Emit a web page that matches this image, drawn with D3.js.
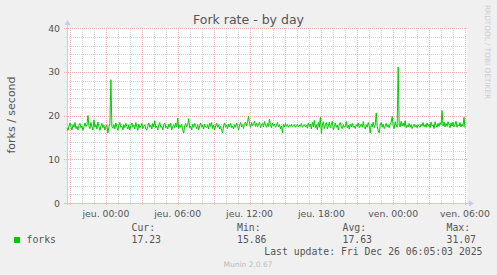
<!DOCTYPE html>
<html><head><meta charset="utf-8">
<script src="https://cdn.jsdelivr.net/npm/d3@7"></script>
<style>
html,body{margin:0;padding:0;background:#f0f0f0;}
svg{display:block;}
</style></head>
<body>
<svg id="chart" width="497" height="275"></svg>
<script>
// ---- data ----
const title = "Fork rate - by day";
const yLabel = "forks / second";
const seriesName = "forks";
const startTime = new Date(2025, 11, 24, 20, 45, 0);
const endTime = new Date(2025, 11, 26, 6, 5, 0);
const stepSeconds = 300;
const yTicks = [0, 10, 20, 30, 40];
const xTickLabels = ["jeu. 00:00", "jeu. 06:00", "jeu. 12:00", "jeu. 18:00", "ven. 00:00", "ven. 06:00"];
const xTickTimes = [
  new Date(2025, 11, 25, 0), new Date(2025, 11, 25, 6), new Date(2025, 11, 25, 12),
  new Date(2025, 11, 25, 18), new Date(2025, 11, 26, 0), new Date(2025, 11, 26, 6)
];
const statLabels = ["Cur:", "Min:", "Avg:", "Max:"];
const statValues = ["17.23", "15.86", "17.63", "31.07"];
const lastUpdate = "Last update: Fri Dec 26 06:05:03 2025";
const footer = "Munin 2.0.67";
const sideText = "RRDTOOL / TOBI OETIKER";
const forks = [
17.2,16.6,17.6,18.3,17.4,16.7,17.9,17.3,18.4,17.0,17.5,16.7,17.8,18.2,17.2,17.6,16.6,17.4,18.3,17.5,
17.9,20.0,17.6,17.0,18.4,17.4,16.7,19.0,17.3,17.9,16.9,18.5,17.5,16.6,17.6,18.2,17.2,17.8,16.7,17.5,
17.8,16.0,17.4,18.1,28.2,17.5,17.1,17.9,16.9,18.3,17.4,16.6,17.8,18.4,17.3,17.6,16.7,17.9,17.2,18.2,
17.5,16.9,17.9,16.7,17.6,18.3,17.3,17.8,16.9,18.4,17.4,16.6,18.0,17.2,17.6,18.2,17.0,17.5,17.9,16.9,
16.7,17.6,18.3,17.3,17.8,16.9,18.2,17.4,18.8,17.2,17.6,16.7,17.9,18.4,17.3,17.5,16.7,17.8,18.3,17.2,
17.6,16.9,18.0,17.3,18.2,16.7,17.5,17.9,17.2,18.3,17.4,19.4,17.0,17.8,17.3,18.0,16.7,16.0,17.6,18.2,
17.4,17.9,19.3,17.2,17.6,16.7,18.0,17.3,18.2,17.5,17.0,17.9,16.7,17.6,18.3,17.3,17.8,16.9,18.0,17.4,
17.2,17.9,16.9,18.3,17.5,18.4,17.0,17.8,16.7,17.6,18.2,17.3,17.9,16.9,17.5,16.6,16.0,17.6,18.3,17.3,
17.8,17.0,18.0,17.4,18.2,17.2,17.6,16.9,17.9,17.3,18.3,17.5,16.7,17.8,18.4,17.4,17.9,17.0,18.2,18.5,
17.6,18.6,19.8,18.0,17.3,18.4,17.6,18.2,18.7,17.5,18.3,17.4,18.0,18.5,17.2,17.9,18.2,17.4,18.6,17.8,
17.3,18.2,17.5,19.2,17.9,17.2,18.3,17.6,18.0,17.3,17.8,18.4,17.4,17.9,17.0,17.6,16.0,18.0,17.4,18.2,
17.5,17.9,17.3,17.8,17.5,18.0,17.4,17.6,17.9,17.3,17.6,18.0,17.4,17.8,17.5,18.2,17.3,17.6,17.9,17.4,
17.8,17.1,18.3,17.5,18.0,16.9,18.5,17.4,18.9,17.2,17.9,16.7,18.4,17.3,19.6,15.9,17.8,18.6,17.0,17.9,
18.4,16.9,17.6,18.5,17.2,17.9,18.7,16.7,17.5,18.3,17.3,17.8,16.7,18.0,18.4,17.4,17.0,17.9,17.3,17.6,
18.6,17.2,17.8,16.9,18.0,17.4,18.2,17.3,17.6,17.0,17.9,17.5,18.3,17.2,17.6,18.0,17.3,18.6,17.5,16.9,
17.9,17.3,18.4,17.6,16.0,18.0,17.4,18.5,17.2,17.9,20.6,17.5,16.5,16.0,17.8,18.4,17.3,18.0,17.0,17.6,
18.2,17.4,17.9,17.2,18.0,18.5,19.8,17.6,17.0,18.6,17.8,17.3,31.1,18.0,17.4,18.7,17.6,18.3,17.5,18.8,
17.2,17.8,17.4,18.2,17.3,17.9,17.0,17.6,18.0,17.4,17.8,17.2,17.9,17.5,17.3,18.0,17.6,18.4,17.4,17.9,
17.3,18.3,17.5,18.0,17.2,18.5,17.6,17.9,17.0,18.6,17.8,17.3,18.2,17.5,18.4,17.9,21.1,17.6,18.5,17.4,
18.2,17.5,18.6,17.8,17.2,18.3,17.6,18.5,17.4,18.0,18.7,17.3,17.9,17.6,18.4,17.4,18.0,17.5,19.6,17.2
];

// ---- layout ----
const svg = d3.select("#chart");
const L = 67, R = 466, T = 28, B = 203;
const x = d3.scaleTime().domain([startTime, endTime]).range([L, R]);
const y = d3.scaleLinear().domain([0, 40]).range([B, T]);
const points = forks.map((v, i) => ({t: new Date(startTime.getTime() + i * stepSeconds * 1000), v}));

svg.append("rect").attr("x", 0).attr("y", 0).attr("width", 497).attr("height", 275).attr("fill", "#f0f0f0");
svg.append("rect").attr("x", L).attr("y", T).attr("width", R - L + 1).attr("height", B - T).attr("fill", "#ffffff");

// grid
const minorY = d3.range(0, 41, 2).filter(v => v % 10 !== 0);
const hourTicks = x.ticks(d3.timeHour.every(1));
const majorTimes = hourTicks.filter(d => d.getHours() % 3 === 0);
const minorTimes = hourTicks.filter(d => d.getHours() % 3 !== 0);
const minorColor = "#d4d4d4", majorColor = "#f2b4b4";
const g = svg.append("g").attr("shape-rendering", "crispEdges");
g.selectAll(".mv").data(minorTimes).join("line")
  .attr("x1", d => Math.round(x(d)) + 0.5).attr("x2", d => Math.round(x(d)) + 0.5)
  .attr("y1", T).attr("y2", B + 2)
  .attr("stroke", minorColor).attr("stroke-dasharray", "1,1");
g.selectAll(".mh").data(minorY).join("line")
  .attr("x1", L - 2).attr("x2", R + 1)
  .attr("y1", d => Math.round(y(d)) + 0.5).attr("y2", d => Math.round(y(d)) + 0.5)
  .attr("stroke", minorColor).attr("stroke-dasharray", "1,1");
g.selectAll(".Mv").data(majorTimes).join("line")
  .attr("x1", d => Math.round(x(d)) + 0.5).attr("x2", d => Math.round(x(d)) + 0.5)
  .attr("y1", T).attr("y2", B + 3)
  .attr("stroke", majorColor).attr("stroke-dasharray", "1,1");
g.selectAll(".Mh").data(yTicks).join("line")
  .attr("x1", L - 3).attr("x2", R + 1)
  .attr("y1", d => Math.round(y(d)) + 0.5).attr("y2", d => Math.round(y(d)) + 0.5)
  .attr("stroke", majorColor).attr("stroke-dasharray", "1,1");

// axes lines with arrows
const axisColor = "#c8c8f0";
g.append("line").attr("x1", L + 0.5).attr("x2", L + 0.5).attr("y1", B + 2).attr("y2", T - 4).attr("stroke", axisColor);
g.append("line").attr("x1", L - 2).attr("x2", R + 4).attr("y1", B + 0.5).attr("y2", B + 0.5).attr("stroke", axisColor);
svg.append("path").attr("d", `M${L - 2.5},${T - 3} L${L + 3.5},${T - 3} L${L + 0.5},${T - 8} Z`).attr("fill", axisColor);
svg.append("path").attr("d", `M${R + 3},${B - 2.5} L${R + 3},${B + 3.5} L${R + 8},${B + 0.5} Z`).attr("fill", axisColor);

// data line
svg.append("path").datum(points)
  .attr("fill", "none").attr("stroke", "#00cc00").attr("stroke-width", 1)
  .attr("stroke-linejoin", "miter")
  .attr("d", d3.line().x(d => x(d.t)).y(d => y(d.v)));

// tick labels
const txt = "#555555";
svg.selectAll(".yl").data(yTicks).join("text")
  .attr("x", 60).attr("y", d => y(d) + 3.5).attr("text-anchor", "end")
  .attr("font-family", "DejaVu Sans").attr("font-size", 9.3).attr("fill", txt).text(d => d);
svg.selectAll(".xl").data(xTickTimes).join("text")
  .attr("x", d => x(d)).attr("y", 217).attr("text-anchor", "middle")
  .attr("font-family", "DejaVu Sans").attr("font-size", 9.3).attr("fill", txt)
  .text((d, i) => xTickLabels[i]);

// title and y label
svg.append("text").attr("x", 248.5).attr("y", 24).attr("text-anchor", "middle")
  .attr("font-family", "DejaVu Sans").attr("font-size", 12.5).attr("fill", txt).text(title);
svg.append("text").attr("transform", "translate(15,115) rotate(-90)").attr("text-anchor", "middle")
  .attr("font-family", "DejaVu Sans").attr("font-size", 11).attr("fill", txt).text(yLabel);
svg.append("text").attr("transform", "translate(485,5) rotate(90)").attr("text-anchor", "start")
  .attr("font-family", "DejaVu Sans").attr("font-size", 7.3).attr("fill", "#cccccc").text(sideText);

// legend
const mono = "DejaVu Sans Mono";
const lg = "#555555";
const statX = [131.5, 237, 342.5, 446.5];
svg.append("rect").attr("x", 14).attr("y", 237).attr("width", 6).attr("height", 6).attr("fill", "#00cc00");
svg.append("text").attr("x", 26.5).attr("y", 243).attr("font-family", mono).attr("font-size", 9.8).attr("fill", lg).text(seriesName);
svg.selectAll(".sl").data(statLabels).join("text")
  .attr("x", (d, i) => statX[i]).attr("y", 230.5).attr("font-family", mono).attr("font-size", 9.8).attr("fill", lg).text(d => d);
svg.selectAll(".sv").data(statValues).join("text")
  .attr("x", (d, i) => statX[i]).attr("y", 243).attr("font-family", mono).attr("font-size", 9.8).attr("fill", lg).text(d => d);
svg.append("text").attr("x", 482.5).attr("y", 255).attr("text-anchor", "end").attr("font-family", mono).attr("font-size", 9.8).attr("fill", lg).text(lastUpdate);
svg.append("text").attr("x", 248).attr("y", 267).attr("text-anchor", "middle").attr("font-family", "DejaVu Sans").attr("font-size", 7.5).attr("fill", "#bbbbbb").text(footer);
</script>
</body></html>
